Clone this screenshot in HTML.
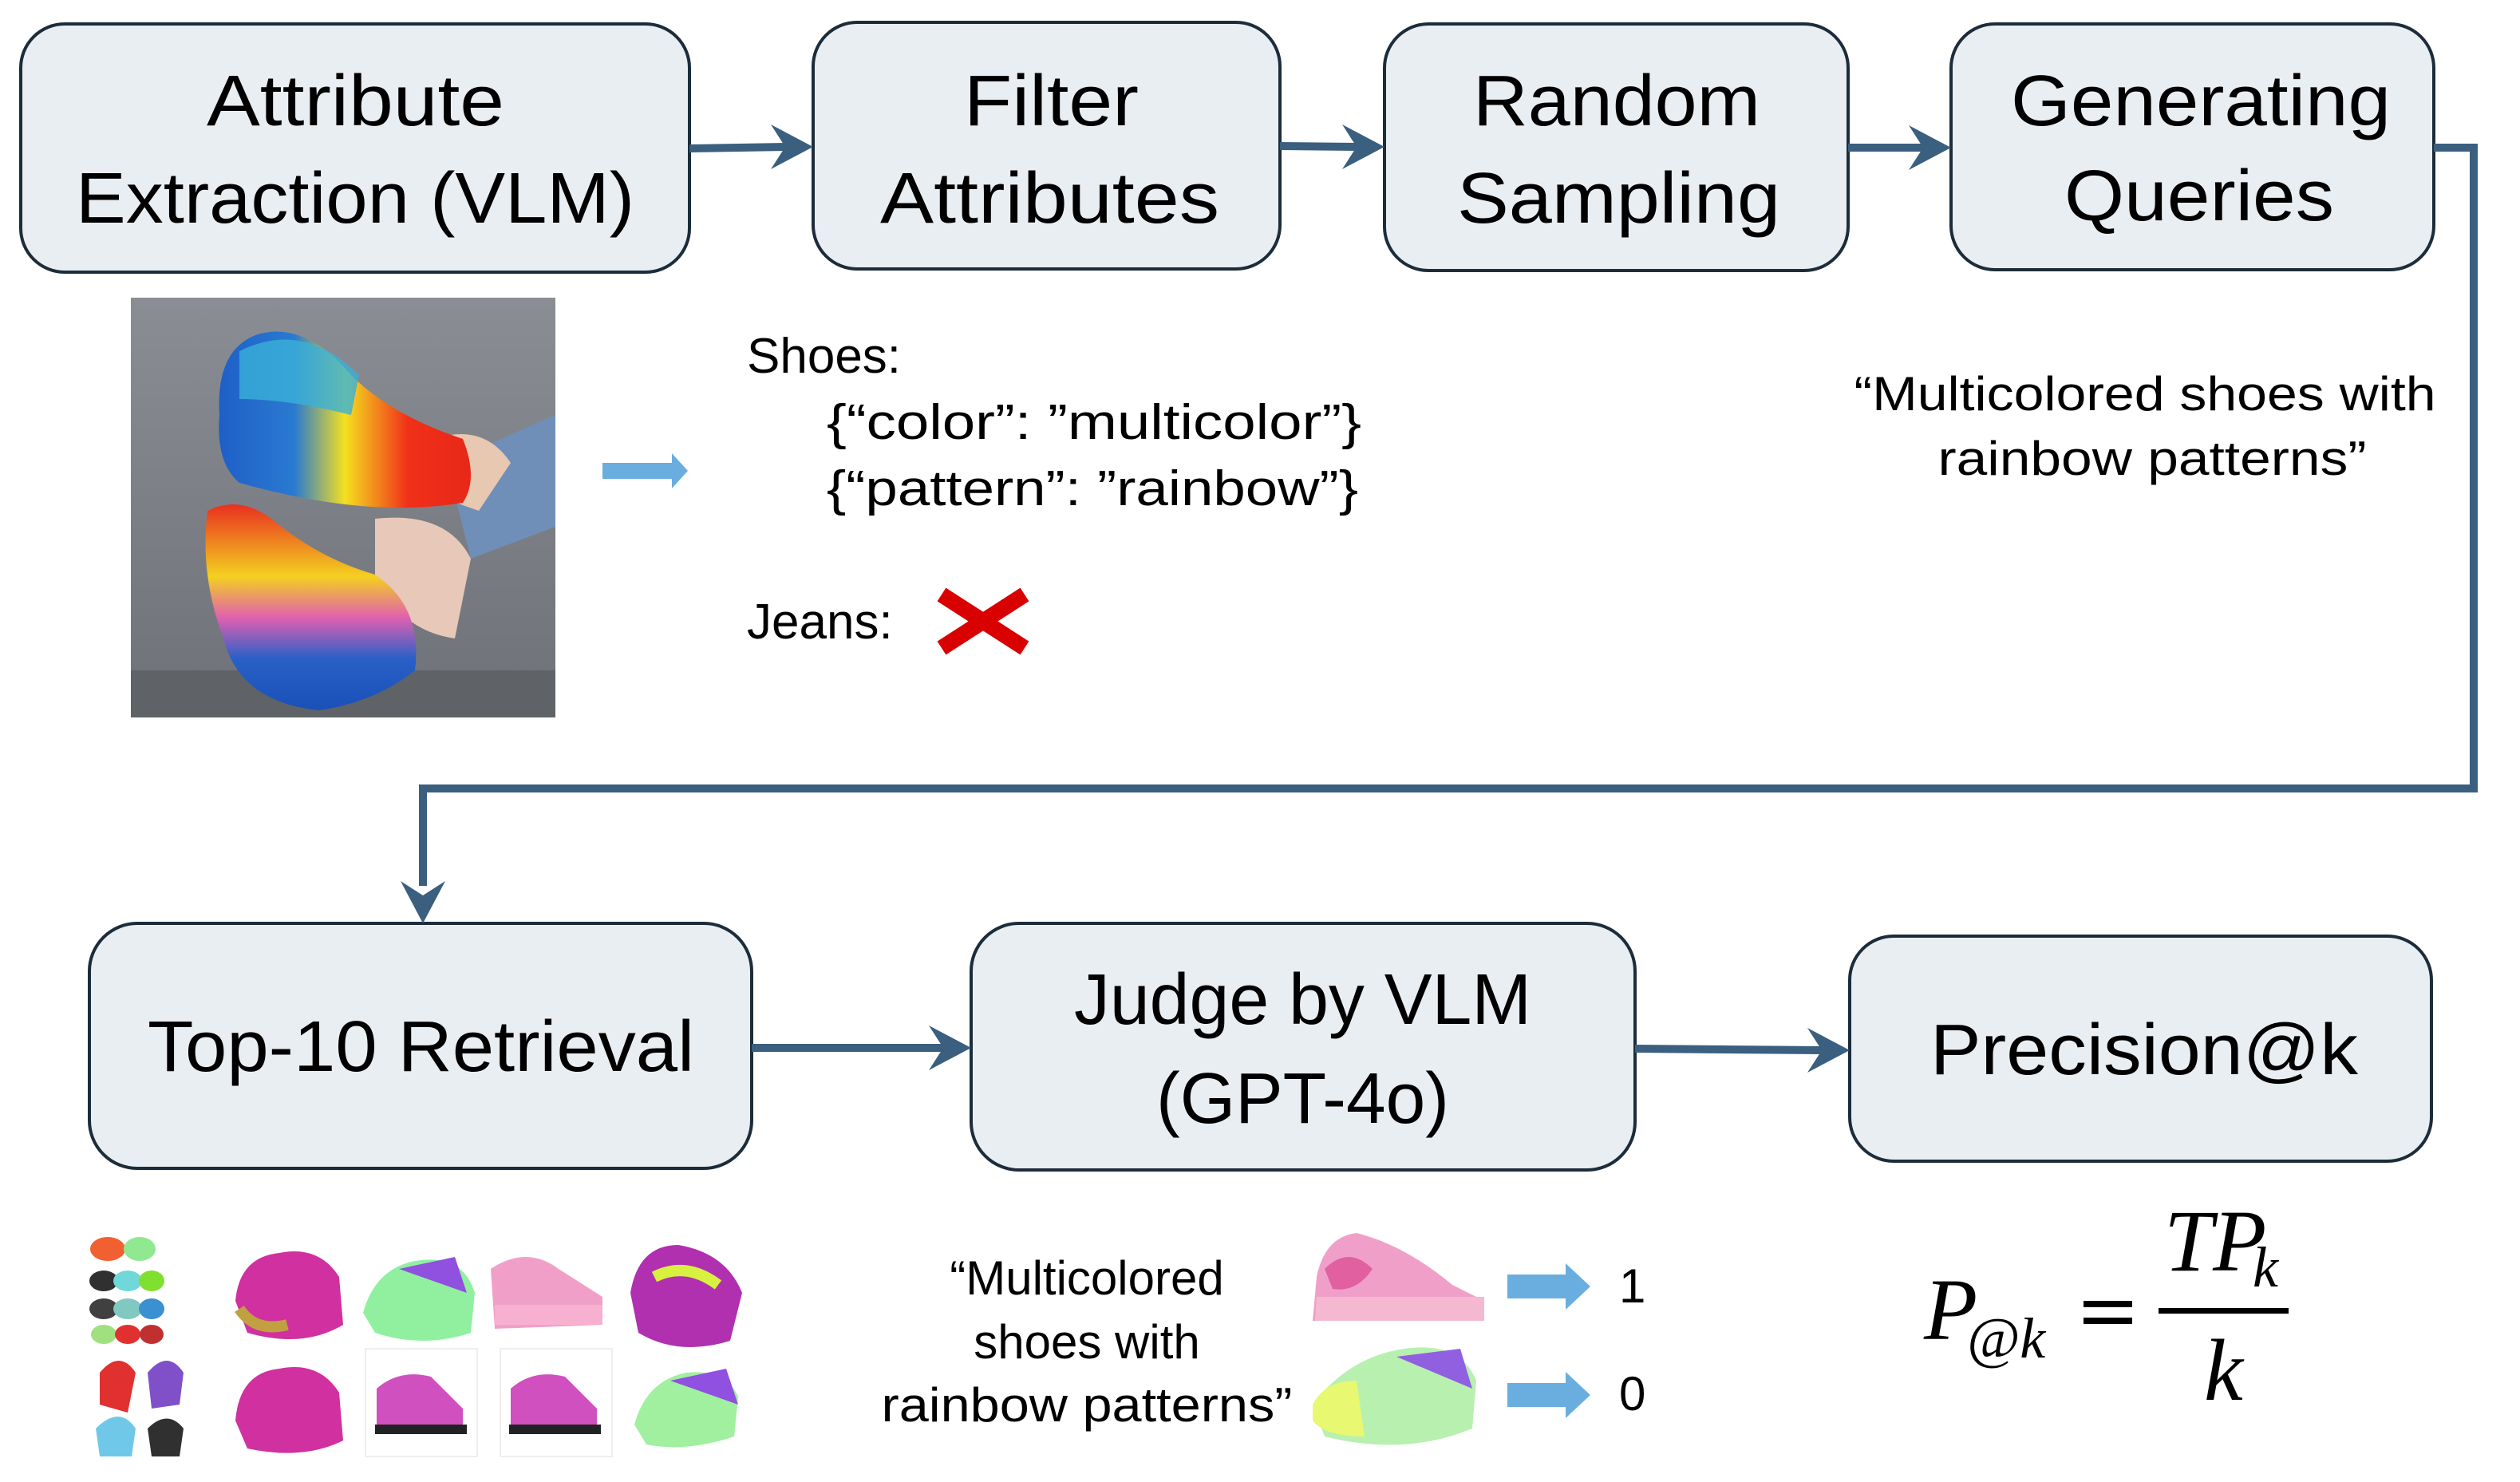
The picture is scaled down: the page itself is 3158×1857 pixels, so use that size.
<!DOCTYPE html>
<html><head><meta charset="utf-8"><style>
html,body{margin:0;padding:0;background:#fff;}
svg{display:block;}
text{font-family:"Liberation Sans",sans-serif;fill:#000;}
</style></head><body>
<svg width="3158" height="1857" viewBox="0 0 3158 1857" xmlns="http://www.w3.org/2000/svg">
<defs>
<linearGradient id="rb" x1="0" y1="0" x2="1" y2="0">
<stop offset="0" stop-color="#1e5fc8"/><stop offset="0.3" stop-color="#2a7ad0"/><stop offset="0.5" stop-color="#f4e020"/><stop offset="0.75" stop-color="#f03018"/><stop offset="1" stop-color="#e82818"/>
</linearGradient>
<linearGradient id="rb2" x1="0" y1="0" x2="0" y2="1">
<stop offset="0" stop-color="#e83020"/><stop offset="0.35" stop-color="#f4d020"/><stop offset="0.55" stop-color="#e060b0"/><stop offset="0.75" stop-color="#2860c8"/><stop offset="1" stop-color="#1a50b8"/>
</linearGradient>
<linearGradient id="bg" x1="0" y1="0" x2="0" y2="1"><stop offset="0" stop-color="#8a8e94"/><stop offset="1" stop-color="#6e7278"/></linearGradient>
</defs>

<g stroke="#1c2c3a" stroke-width="4" fill="#e8eef1">
<rect x="26" y="30" width="838" height="311" rx="55"/>
<rect x="1019" y="28" width="585" height="309" rx="55"/>
<rect x="1735" y="30" width="581" height="309" rx="55"/>
<rect x="2445" y="30" width="605" height="308" rx="55"/>
<rect x="112" y="1157" width="830" height="307" rx="60"/>
<rect x="1217" y="1157" width="832" height="309" rx="60"/>
<rect x="2318" y="1173" width="729" height="282" rx="55"/>
</g>

<g font-size="90">
<text x="259" y="157" textLength="373" lengthAdjust="spacingAndGlyphs">Attribute</text>
<text x="95" y="279" textLength="700" lengthAdjust="spacingAndGlyphs">Extraction (VLM)</text>
<text x="1208" y="157" textLength="219" lengthAdjust="spacingAndGlyphs">Filter</text>
<text x="1103" y="279" textLength="425" lengthAdjust="spacingAndGlyphs">Attributes</text>
<text x="1846" y="157" textLength="360" lengthAdjust="spacingAndGlyphs">Random</text>
<text x="1826" y="279" textLength="405" lengthAdjust="spacingAndGlyphs">Sampling</text>
<text x="2520" y="157" textLength="476" lengthAdjust="spacingAndGlyphs">Generating</text>
<text x="2587" y="276" textLength="338" lengthAdjust="spacingAndGlyphs">Queries</text>
<text x="185" y="1342" textLength="685" lengthAdjust="spacingAndGlyphs">Top-10 Retrieval</text>
<text x="1346" y="1283" textLength="573" lengthAdjust="spacingAndGlyphs">Judge by VLM</text>
<text x="1449" y="1407" textLength="367" lengthAdjust="spacingAndGlyphs">(GPT-4o)</text>
<text x="2419" y="1346" textLength="536" lengthAdjust="spacingAndGlyphs">Precision@k</text>
</g>

<!-- connectors -->
<g stroke="#3a5f7f" stroke-width="10" fill="none">
<line x1="864" y1="186" x2="985" y2="184"/>
<line x1="1604" y1="183" x2="1700" y2="184"/>
<line x1="2316" y1="185" x2="2410" y2="185"/>
<polyline points="3050,185 3100,185 3100,988 530,988 530,1110"/>
<line x1="942" y1="1313" x2="1182" y2="1313"/>
<line x1="2049" y1="1314" x2="2283" y2="1316"/>
</g>
<g fill="#3a5f7f">
<polygon points="1019,184 966,156 984,184 966,212"/>
<polygon points="1735,184 1682,156 1700,184 1682,212"/>
<polygon points="2445,185 2392,157 2410,185 2392,213"/>
<polygon points="530,1157 502,1104 530,1122 558,1104"/>
<polygon points="1217,1313 1164,1285 1182,1313 1164,1341"/>
<polygon points="2318,1316 2265,1288 2283,1316 2265,1344"/>
</g>

<!-- shoe photo -->
<rect x="164" y="373" width="532" height="526" fill="url(#bg)"/>
<rect x="164" y="840" width="532" height="59" fill="#5f6266"/>
<path d="M560 580 L696 520 L696 660 L590 700 Z" fill="#6f8fb8"/>
<path d="M520 560 Q600 520 640 580 L600 640 Q540 620 520 600Z" fill="#e8c8b0"/>
<path d="M470 650 Q560 640 590 700 L570 800 Q500 790 470 720Z" fill="#e8c8b8"/>
<path d="M275 520 Q270 440 320 420 Q380 400 440 470 Q490 520 580 550 Q600 600 580 630 Q460 650 300 605 Q270 580 275 520Z" fill="url(#rb)"/>
<path d="M300 440 Q380 400 450 470 L440 520 Q360 500 300 500Z" fill="#3ab0d8" opacity="0.8"/>
<path d="M260 640 Q300 620 340 650 Q400 700 470 720 Q530 760 520 840 Q470 880 400 890 Q300 880 280 800 Q250 720 260 640Z" fill="url(#rb2)"/>

<!-- small blue arrow -->
<polygon points="755,580 842,580 842,568 862,590 842,612 842,600 755,600" fill="#6aaee0"/>

<!-- attributes text -->
<g font-size="62">
<text x="936" y="467">Shoes:</text>
<text x="1036" y="550" textLength="670" lengthAdjust="spacingAndGlyphs">{“color”: ”multicolor”}</text>
<text x="1036" y="633" textLength="666" lengthAdjust="spacingAndGlyphs">{“pattern”: ”rainbow”}</text>
<text x="936" y="800">Jeans:</text>
</g>
<g stroke="#d80000" stroke-width="20">
<line x1="1180" y1="745" x2="1284" y2="812"/>
<line x1="1284" y1="745" x2="1180" y2="812"/>
</g>

<g font-size="60" text-anchor="middle">
<text x="2688" y="514" textLength="729" lengthAdjust="spacingAndGlyphs">“Multicolored shoes with</text>
<text x="2697" y="595" textLength="537" lengthAdjust="spacingAndGlyphs">rainbow patterns”</text>
<text x="1362" y="1622">“Multicolored</text>
<text x="1362" y="1702">shoes with</text>
<text x="1362" y="1781" textLength="515" lengthAdjust="spacingAndGlyphs">rainbow patterns”</text>
</g>

<!-- retrieved thumbnails -->
<g>
<ellipse cx="135" cy="1565" rx="22" ry="15" fill="#f06030"/><ellipse cx="175" cy="1565" rx="20" ry="15" fill="#90e890"/>
<ellipse cx="130" cy="1605" rx="18" ry="13" fill="#303030"/><ellipse cx="160" cy="1605" rx="18" ry="13" fill="#70d8d8"/><ellipse cx="190" cy="1605" rx="16" ry="13" fill="#80e030"/>
<ellipse cx="130" cy="1640" rx="18" ry="13" fill="#404040"/><ellipse cx="160" cy="1640" rx="18" ry="13" fill="#80c8c0"/><ellipse cx="190" cy="1640" rx="16" ry="13" fill="#3a90d0"/>
<ellipse cx="130" cy="1672" rx="16" ry="12" fill="#a0e080"/><ellipse cx="160" cy="1672" rx="16" ry="12" fill="#e03030"/><ellipse cx="190" cy="1672" rx="15" ry="12" fill="#c03030"/>
<path d="M295 1630 Q300 1575 350 1570 Q400 1560 425 1600 L430 1660 Q380 1690 310 1670Z" fill="#d030a0"/>
<path d="M300 1640 Q320 1670 360 1660" stroke="#c0a040" stroke-width="14" fill="none"/>
<path d="M455 1645 Q470 1590 520 1580 Q580 1570 595 1620 L590 1670 Q530 1690 470 1670Z" fill="#90f0a0"/>
<path d="M500 1590 L570 1575 L585 1620 Z" fill="#9050e0"/>
<path d="M615 1590 Q660 1560 700 1590 L755 1625 L755 1660 L620 1665Z" fill="#f0a0c8"/>
<rect x="620" y="1635" width="135" height="25" fill="#f8b0d0"/>
<path d="M790 1620 Q800 1560 850 1560 Q910 1570 930 1620 L915 1680 Q850 1700 800 1670Z" fill="#b030b0"/>
<path d="M820 1600 Q860 1580 900 1610" stroke="#d8f040" stroke-width="14" fill="none"/>
<path d="M125 1720 Q150 1690 170 1720 L160 1770 L125 1760Z" fill="#e03030"/><path d="M185 1720 Q210 1690 230 1720 L225 1760 L190 1765Z" fill="#8050c8"/>
<path d="M120 1790 Q150 1760 170 1790 L165 1825 L125 1825Z" fill="#70c8e8"/><path d="M185 1790 Q210 1765 230 1790 L225 1825 L190 1825Z" fill="#303030"/>
<path d="M295 1780 Q300 1720 350 1715 Q400 1705 425 1745 L430 1805 Q380 1830 310 1815Z" fill="#d030a0"/>
<rect x="458" y="1690" width="140" height="135" fill="#fff" stroke="#eee" stroke-width="2"/>
<rect x="627" y="1690" width="140" height="135" fill="#fff" stroke="#eee" stroke-width="2"/>
<path d="M472 1740 Q500 1715 540 1725 L580 1765 L580 1790 L472 1790Z" fill="#d050c0"/><rect x="470" y="1785" width="115" height="12" fill="#222"/>
<path d="M640 1740 Q668 1715 708 1725 L748 1765 L748 1790 L640 1790Z" fill="#d050c0"/><rect x="638" y="1785" width="115" height="12" fill="#222"/>
<path d="M795 1785 Q810 1730 860 1720 Q910 1715 925 1750 L920 1800 Q860 1820 810 1810Z" fill="#a0f0a0"/>
<path d="M840 1730 L910 1715 L925 1760 Z" fill="#9050e0"/>
</g>

<!-- judged shoes -->
<path d="M1650 1600 Q1660 1550 1700 1545 Q1760 1560 1820 1610 L1860 1630 L1860 1655 L1645 1655Z" fill="#f0a0c8"/>
<path d="M1650 1625 L1860 1625 L1860 1655 L1648 1655Z" fill="#f4b8d0"/>
<path d="M1660 1590 Q1690 1560 1720 1590 Q1700 1620 1670 1615Z" fill="#e060a0"/>
<path d="M1645 1760 Q1690 1700 1760 1690 Q1830 1680 1850 1730 L1845 1790 Q1760 1825 1660 1800Z" fill="#b8f0b0"/>
<path d="M1645 1760 Q1660 1730 1700 1730 L1710 1800 Q1660 1800 1645 1780Z" fill="#e8f870"/>
<path d="M1750 1700 L1830 1690 L1845 1740 Z" fill="#9060e0"/>

<g fill="#6aaee0">
<polygon points="1889,1597 1962,1597 1962,1583 1993,1612 1962,1641 1962,1627 1889,1627"/>
<polygon points="1889,1733 1962,1733 1962,1719 1993,1748 1962,1777 1962,1763 1889,1763"/>
</g>
<text x="2029" y="1632" font-size="60">1</text>
<text x="2029" y="1767" font-size="60">0</text>

<!-- formula -->
<g font-family="Liberation Serif, serif" font-style="italic">
<text x="2411" y="1678" font-size="110" style="font-family:'Liberation Serif',serif">P</text>
<text x="2465" y="1701" font-size="72" style="font-family:'Liberation Serif',serif">@k</text>
<text x="2712" y="1592" font-size="110" style="font-family:'Liberation Serif',serif">TP</text>
<text x="2823" y="1612" font-size="72" style="font-family:'Liberation Serif',serif">k</text>
<text x="2762" y="1754" font-size="110" style="font-family:'Liberation Serif',serif">k</text>
</g>
<rect x="2611" y="1630" width="61" height="8" fill="#000"/>
<rect x="2611" y="1651" width="61" height="8" fill="#000"/>
<rect x="2705" y="1639" width="163" height="7" fill="#000"/>
</svg>
</body></html>
